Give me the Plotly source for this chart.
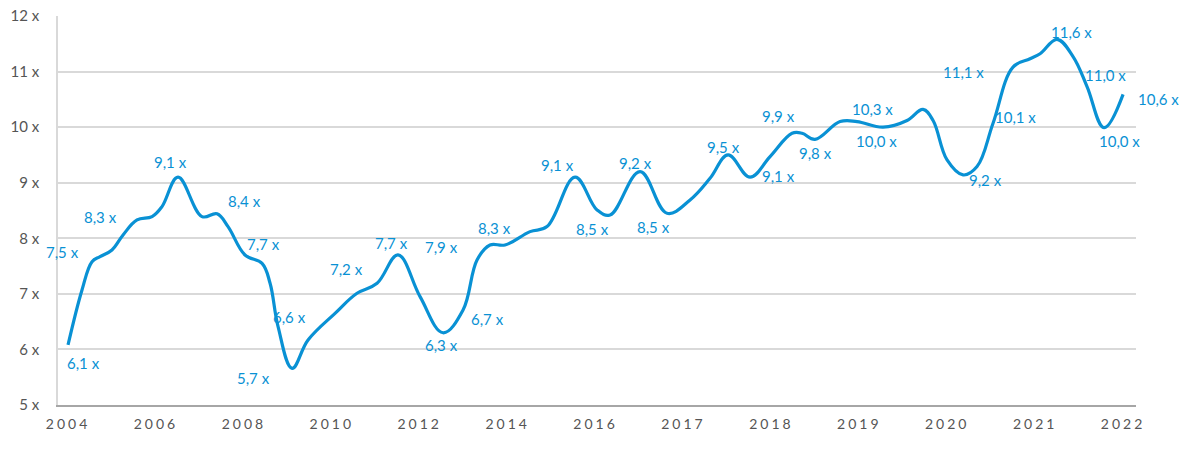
import plotly.graph_objects as go

# Tick categories (evenly spaced on the axis)
years = ["2004", "2006", "2008", "2010", "2012", "2014", "2016",
         "2017", "2018", "2019", "2020", "2021", "2022"]

# Curve: position along the year axis (0 = 2004 ... 12 = 2022) and multiple
curve_pos = [0, 0.159, 0.273, 0.364, 0.5, 0.626, 0.785, 0.956, 1.069, 1.251,
             1.524, 1.695, 1.82, 2.013, 2.207, 2.298, 2.389, 2.548, 2.73,
             3.037, 3.287, 3.515, 3.753, 4.004, 4.265, 4.493, 4.652, 4.8, 4.97,
             5.255, 5.448, 5.767, 6.017, 6.165, 6.506, 6.813,
             7.075, 7.302, 7.507, 7.757, 7.985, 8.235, 8.349, 8.496, 8.781, 8.974,
             9.27, 9.543, 9.725, 9.839, 9.998, 10.18, 10.339, 10.521, 10.748, 10.942,
             11.056, 11.249, 11.431, 11.59, 11.784, 12.0]
curve_val = [6.08, 7.07, 7.58, 7.67, 7.79, 8.06, 8.33, 8.39, 8.57, 9.10,
             8.39, 8.44, 8.21, 7.70, 7.55, 7.19, 6.41, 5.66, 6.17,
             6.65, 7.01, 7.19, 7.70, 6.95, 6.30, 6.71, 7.61, 7.88, 7.88,
             8.12, 8.21, 9.10, 8.51, 8.42, 9.20, 8.45,
             8.69, 9.08, 9.50, 9.10, 9.47, 9.89, 9.89, 9.78, 10.10, 10.10,
             10.00, 10.12, 10.32, 10.12, 9.41, 9.14, 9.29, 10.07, 11.08, 11.23,
             11.32, 11.58, 11.27, 10.73, 9.99, 10.59]

# Value labels shown on the chart
label_values = [6.1, 7.5, 8.3, 9.1, 8.4, 7.7, 6.6, 5.7, 7.2, 7.7, 7.9, 6.3, 6.7,
                8.3, 9.1, 8.5, 9.2, 8.5, 9.5, 9.9, 9.1, 9.8, 10.3, 10.0, 11.1,
                9.2, 10.1, 11.6, 11.0, 10.0, 10.6]

# Layout: where each label sits (axis position, y level)
label_pos_x = [0.171, -0.068, 0.364, 1.160, 2.002, 2.218, 2.514, 2.104, 3.173, 3.674,
               4.243, 4.243, 4.766, 4.845, 5.562, 5.971, 6.449, 6.654, 7.450, 8.076,
               8.076, 8.496, 9.145, 9.190, 10.180, 10.430, 10.771, 11.408, 11.795,
               11.954, 12.398]
label_pos_y = [5.756, 7.753, 8.383, 9.373, 8.671, 7.897, 6.584, 5.486, 7.447, 7.915,
               7.843, 6.080, 6.548, 8.185, 9.319, 8.167, 9.355, 8.203, 9.643, 10.201,
               9.121, 9.535, 10.327, 9.751, 10.992, 9.049, 10.183, 11.712, 10.938,
               9.751, 10.507]

BLUE = "#0991d4"
GREY = "#555555"
FONT = "Lato"
X_RANGE = [-0.114, 12.147]

fig = go.Figure()
fig.add_trace(go.Scatter(
    x=curve_pos, y=curve_val, mode="lines",
    line=dict(color=BLUE, width=3.2, shape="spline", smoothing=1.1),
    hoverinfo="skip", showlegend=False,
))

span = X_RANGE[1] - X_RANGE[0]
for v, lx, ly in zip(label_values, label_pos_x, label_pos_y):
    fig.add_annotation(
        xref="paper", yref="y",
        x=(lx - X_RANGE[0]) / span, y=ly,
        text=f"{v:.1f}".replace(".", ",") + " x",
        showarrow=False, xanchor="center", yanchor="middle",
        font=dict(family=FONT, size=15, color=BLUE),
    )

fig.update_layout(
    width=1200, height=454,
    margin=dict(l=58, r=64, t=16, b=49, autoexpand=False),
    paper_bgcolor="white", plot_bgcolor="white",
    font=dict(family=FONT, color=GREY),
    showlegend=False,
)
fig.update_xaxes(
    range=X_RANGE, automargin=False,
    tickmode="array", tickvals=list(range(len(years))),
    ticktext=[f'<span style="letter-spacing:3px">{y}</span>' for y in years],
    tickfont=dict(family=FONT, size=14, color=GREY),
    showgrid=False, zeroline=False,
    showline=True, linecolor="#a6a6a6", linewidth=2,
    ticks="", ticklabelstandoff=5,
)
fig.update_yaxes(
    range=[5, 12], dtick=1, ticksuffix=" x", automargin=False,
    tickfont=dict(family=FONT, size=15, color=GREY),
    showgrid=True, gridcolor="#d9d9d9", gridwidth=1.5,
    zeroline=False, showline=True, linecolor="#d9d9d9", linewidth=1.5,
    ticks="", ticklabelstandoff=14,
)

fig.write_html("out.html", config={"displayModeBar": False},
               post_script="document.body.style.margin='0';")
